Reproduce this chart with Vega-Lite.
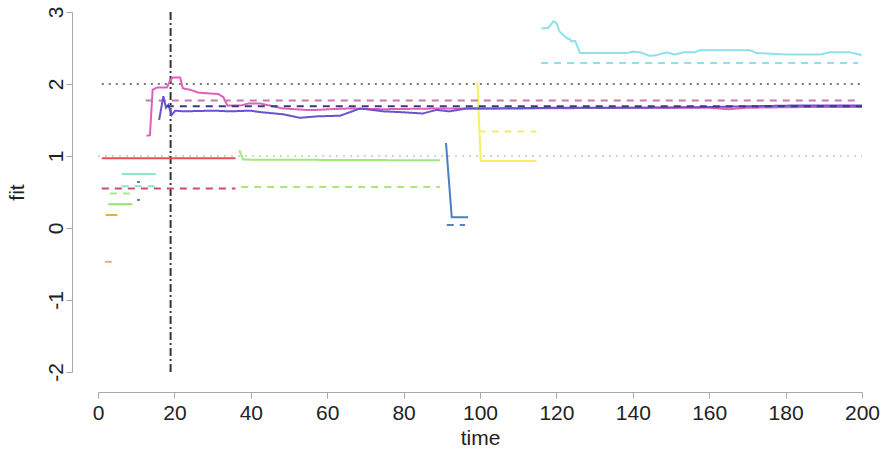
{
  "$schema": "https://vega.github.io/schema/vega-lite/v6.json",
  "width": 764,
  "height": 360,
  "autosize": {"type": "none"},
  "padding": {"left": 98, "top": 12, "right": 23, "bottom": 78},
  "background": "white",
  "config": {
    "view": {"stroke": null},
    "font": "Liberation Sans",
    "axis": {
      "grid": false,
      "domainColor": "#a8a8a8",
      "tickColor": "#a8a8a8",
      "tickSize": 6,
      "labelFontSize": 21,
      "titleFontSize": 21,
      "labelColor": "#222",
      "titleColor": "#222",
      "titleFontWeight": "normal",
      "labelFlush": false,
      "labelOverlap": false
    }
  },
  "data": {
    "values": [
      {"series": "ref2", "kind": "ref", "t": 1, "fit": 2.0},
      {"series": "ref2", "kind": "ref", "t": 200, "fit": 2.0},
      {"series": "ref1", "kind": "ref", "t": 0, "fit": 1.0},
      {"series": "ref1", "kind": "ref", "t": 200, "fit": 1.0},
      {"series": "vline", "kind": "vline", "t": 19, "fit": -2},
      {"series": "vline", "kind": "vline", "t": 19, "fit": 3},

      {"series": "red fit", "kind": "fit", "t": 1, "fit": 0.97},
      {"series": "red fit", "kind": "fit", "t": 36, "fit": 0.97},
      {"series": "red true", "kind": "true", "t": 1, "fit": 0.55},
      {"series": "red true", "kind": "true", "t": 36, "fit": 0.55},

      {"series": "green fit", "kind": "fit", "t": 37, "fit": 1.08},
      {"series": "green fit", "kind": "fit", "t": 38, "fit": 0.95},
      {"series": "green fit", "kind": "fit", "t": 89.5, "fit": 0.94},
      {"series": "green true", "kind": "true", "t": 37.5, "fit": 0.57},
      {"series": "green true", "kind": "true", "t": 89.5, "fit": 0.57},

      {"series": "blue fit", "kind": "fit", "t": 91.1, "fit": 1.18},
      {"series": "blue fit", "kind": "fit", "t": 92.6, "fit": 0.15},
      {"series": "blue fit", "kind": "fit", "t": 96.9, "fit": 0.15},
      {"series": "blue true", "kind": "true", "t": 91.3, "fit": 0.04},
      {"series": "blue true", "kind": "true", "t": 96.1, "fit": 0.04},

      {"series": "yellow fit", "kind": "fit", "t": 99.3, "fit": 2.03},
      {"series": "yellow fit", "kind": "fit", "t": 100.2, "fit": 0.93},
      {"series": "yellow fit", "kind": "fit", "t": 114.8, "fit": 0.93},
      {"series": "yellow true", "kind": "true", "t": 99.6, "fit": 1.34},
      {"series": "yellow true", "kind": "true", "t": 114.8, "fit": 1.34},

      {"series": "cyan fit", "kind": "fit", "t": 116.1, "fit": 2.77},
      {"series": "cyan fit", "kind": "fit", "t": 117.9, "fit": 2.78},
      {"series": "cyan fit", "kind": "fit", "t": 119.2, "fit": 2.87},
      {"series": "cyan fit", "kind": "fit", "t": 120.1, "fit": 2.84},
      {"series": "cyan fit", "kind": "fit", "t": 120.8, "fit": 2.73},
      {"series": "cyan fit", "kind": "fit", "t": 121.8, "fit": 2.68},
      {"series": "cyan fit", "kind": "fit", "t": 122.9, "fit": 2.63},
      {"series": "cyan fit", "kind": "fit", "t": 123.4, "fit": 2.63},
      {"series": "cyan fit", "kind": "fit", "t": 124.0, "fit": 2.59},
      {"series": "cyan fit", "kind": "fit", "t": 124.9, "fit": 2.60},
      {"series": "cyan fit", "kind": "fit", "t": 126.2, "fit": 2.43},
      {"series": "cyan fit", "kind": "fit", "t": 138.4, "fit": 2.43},
      {"series": "cyan fit", "kind": "fit", "t": 140.1, "fit": 2.45},
      {"series": "cyan fit", "kind": "fit", "t": 141.9, "fit": 2.44},
      {"series": "cyan fit", "kind": "fit", "t": 144.5, "fit": 2.39},
      {"series": "cyan fit", "kind": "fit", "t": 146.2, "fit": 2.40},
      {"series": "cyan fit", "kind": "fit", "t": 148.9, "fit": 2.44},
      {"series": "cyan fit", "kind": "fit", "t": 151.0, "fit": 2.41},
      {"series": "cyan fit", "kind": "fit", "t": 153.2, "fit": 2.44},
      {"series": "cyan fit", "kind": "fit", "t": 156.3, "fit": 2.44},
      {"series": "cyan fit", "kind": "fit", "t": 157.6, "fit": 2.47},
      {"series": "cyan fit", "kind": "fit", "t": 170.7, "fit": 2.47},
      {"series": "cyan fit", "kind": "fit", "t": 172.4, "fit": 2.43},
      {"series": "cyan fit", "kind": "fit", "t": 180.3, "fit": 2.41},
      {"series": "cyan fit", "kind": "fit", "t": 189.0, "fit": 2.41},
      {"series": "cyan fit", "kind": "fit", "t": 191.6, "fit": 2.44},
      {"series": "cyan fit", "kind": "fit", "t": 196.9, "fit": 2.44},
      {"series": "cyan fit", "kind": "fit", "t": 199.9, "fit": 2.40},
      {"series": "cyan true", "kind": "true", "t": 116, "fit": 2.29},
      {"series": "cyan true", "kind": "true", "t": 199, "fit": 2.29},

      {"series": "pink fit", "kind": "fit", "t": 12.7, "fit": 1.28},
      {"series": "pink fit", "kind": "fit", "t": 13.6, "fit": 1.29},
      {"series": "pink fit", "kind": "fit", "t": 14.3, "fit": 1.92},
      {"series": "pink fit", "kind": "fit", "t": 15.4, "fit": 1.95},
      {"series": "pink fit", "kind": "fit", "t": 18.0, "fit": 1.95},
      {"series": "pink fit", "kind": "fit", "t": 19.0, "fit": 2.06},
      {"series": "pink fit", "kind": "fit", "t": 19.7, "fit": 2.09},
      {"series": "pink fit", "kind": "fit", "t": 21.5, "fit": 2.09},
      {"series": "pink fit", "kind": "fit", "t": 22.2, "fit": 1.94},
      {"series": "pink fit", "kind": "fit", "t": 24.1, "fit": 1.92},
      {"series": "pink fit", "kind": "fit", "t": 26.3, "fit": 1.88},
      {"series": "pink fit", "kind": "fit", "t": 31.5, "fit": 1.86},
      {"series": "pink fit", "kind": "fit", "t": 32.8, "fit": 1.82},
      {"series": "pink fit", "kind": "fit", "t": 33.9, "fit": 1.70},
      {"series": "pink fit", "kind": "fit", "t": 37.2, "fit": 1.70},
      {"series": "pink fit", "kind": "fit", "t": 39.4, "fit": 1.73},
      {"series": "pink fit", "kind": "fit", "t": 42.4, "fit": 1.73},
      {"series": "pink fit", "kind": "fit", "t": 45.0, "fit": 1.70},
      {"series": "pink fit", "kind": "fit", "t": 48.4, "fit": 1.66},
      {"series": "pink fit", "kind": "fit", "t": 54.6, "fit": 1.64},
      {"series": "pink fit", "kind": "fit", "t": 57.0, "fit": 1.64},
      {"series": "pink fit", "kind": "fit", "t": 60.7, "fit": 1.65},
      {"series": "pink fit", "kind": "fit", "t": 66.0, "fit": 1.66},
      {"series": "pink fit", "kind": "fit", "t": 74.6, "fit": 1.65},
      {"series": "pink fit", "kind": "fit", "t": 90.0, "fit": 1.66},
      {"series": "pink fit", "kind": "fit", "t": 110.0, "fit": 1.66},
      {"series": "pink fit", "kind": "fit", "t": 140.0, "fit": 1.67},
      {"series": "pink fit", "kind": "fit", "t": 160.0, "fit": 1.67},
      {"series": "pink fit", "kind": "fit", "t": 165.0, "fit": 1.65},
      {"series": "pink fit", "kind": "fit", "t": 170.0, "fit": 1.67},
      {"series": "pink fit", "kind": "fit", "t": 185.0, "fit": 1.68},
      {"series": "pink fit", "kind": "fit", "t": 200.0, "fit": 1.68},
      {"series": "pink true", "kind": "true", "t": 12.5, "fit": 1.77},
      {"series": "pink true", "kind": "true", "t": 199, "fit": 1.77},

      {"series": "purple fit", "kind": "fit", "t": 16.0, "fit": 1.50},
      {"series": "purple fit", "kind": "fit", "t": 17.1, "fit": 1.83},
      {"series": "purple fit", "kind": "fit", "t": 17.8, "fit": 1.67},
      {"series": "purple fit", "kind": "fit", "t": 18.4, "fit": 1.71},
      {"series": "purple fit", "kind": "fit", "t": 19.3, "fit": 1.57},
      {"series": "purple fit", "kind": "fit", "t": 20.2, "fit": 1.63},
      {"series": "purple fit", "kind": "fit", "t": 22.3, "fit": 1.62},
      {"series": "purple fit", "kind": "fit", "t": 30.2, "fit": 1.63},
      {"series": "purple fit", "kind": "fit", "t": 34.6, "fit": 1.62},
      {"series": "purple fit", "kind": "fit", "t": 39.8, "fit": 1.63},
      {"series": "purple fit", "kind": "fit", "t": 42.4, "fit": 1.61},
      {"series": "purple fit", "kind": "fit", "t": 48.4, "fit": 1.58},
      {"series": "purple fit", "kind": "fit", "t": 52.9, "fit": 1.53},
      {"series": "purple fit", "kind": "fit", "t": 57.2, "fit": 1.55},
      {"series": "purple fit", "kind": "fit", "t": 63.4, "fit": 1.56},
      {"series": "purple fit", "kind": "fit", "t": 66.0, "fit": 1.61},
      {"series": "purple fit", "kind": "fit", "t": 68.6, "fit": 1.66},
      {"series": "purple fit", "kind": "fit", "t": 74.7, "fit": 1.62},
      {"series": "purple fit", "kind": "fit", "t": 79.0, "fit": 1.61},
      {"series": "purple fit", "kind": "fit", "t": 85.0, "fit": 1.59},
      {"series": "purple fit", "kind": "fit", "t": 88.6, "fit": 1.64},
      {"series": "purple fit", "kind": "fit", "t": 92.0, "fit": 1.62},
      {"series": "purple fit", "kind": "fit", "t": 96.5, "fit": 1.66},
      {"series": "purple fit", "kind": "fit", "t": 102.6, "fit": 1.66},
      {"series": "purple fit", "kind": "fit", "t": 120.0, "fit": 1.67},
      {"series": "purple fit", "kind": "fit", "t": 142.0, "fit": 1.67},
      {"series": "purple fit", "kind": "fit", "t": 160.0, "fit": 1.68},
      {"series": "purple fit", "kind": "fit", "t": 181.0, "fit": 1.70},
      {"series": "purple fit", "kind": "fit", "t": 200.0, "fit": 1.70},
      {"series": "purple true", "kind": "true", "t": 18, "fit": 1.69},
      {"series": "purple true", "kind": "true", "t": 200, "fit": 1.69},

      {"series": "teal fit", "kind": "fit", "t": 6.2, "fit": 0.75},
      {"series": "teal fit", "kind": "fit", "t": 15.1, "fit": 0.75},
      {"series": "teal true", "kind": "true", "t": 6.2, "fit": 0.58},
      {"series": "teal true", "kind": "true", "t": 15.0, "fit": 0.58},

      {"series": "lgreen fit", "kind": "fit", "t": 2.7, "fit": 0.33},
      {"series": "lgreen fit", "kind": "fit", "t": 9.0, "fit": 0.33},
      {"series": "lgreen true", "kind": "true", "t": 3.1, "fit": 0.48},
      {"series": "lgreen true", "kind": "true", "t": 8.4, "fit": 0.48},

      {"series": "orange fit", "kind": "fit", "t": 2.0, "fit": 0.18},
      {"series": "orange fit", "kind": "fit", "t": 5.1, "fit": 0.18},
      {"series": "orange true", "kind": "true", "t": 1.8, "fit": -0.47},
      {"series": "orange true", "kind": "true", "t": 3.6, "fit": -0.47},

      {"series": "sblue fit", "kind": "fit", "t": 10.2, "fit": 0.64},
      {"series": "sblue fit", "kind": "fit", "t": 11.0, "fit": 0.64},
      {"series": "sblue true", "kind": "true", "t": 10.2, "fit": 0.39},
      {"series": "sblue true", "kind": "true", "t": 11.0, "fit": 0.39}
    ]
  },
  "mark": {"type": "line", "strokeWidth": 2, "strokeCap": "butt"},
  "encoding": {
    "x": {
      "field": "t", "type": "quantitative",
      "scale": {"domain": [0, 200], "nice": false, "zero": false},
      "axis": {"title": "time", "offset": 20, "values": [0, 20, 40, 60, 80, 100, 120, 140, 160, 180, 200], "labelPadding": 4, "titlePadding": 4}
    },
    "y": {
      "field": "fit", "type": "quantitative",
      "scale": {"domain": [-2, 3], "nice": false, "zero": false},
      "axis": {"title": "fit", "offset": 26, "values": [-2, -1, 0, 1, 2, 3], "labelExpr": "'' + datum.value", "labelAngle": 270, "labelAlign": "center", "labelBaseline": "alphabetic", "labelPadding": 4, "titlePadding": 18}
    },
    "color": {
      "field": "series", "type": "nominal", "legend": null,
      "scale": {
        "domain": ["ref2", "ref1", "vline", "red fit", "red true", "green fit", "green true", "blue fit", "blue true", "yellow fit", "yellow true", "cyan fit", "cyan true", "pink fit", "pink true", "purple fit", "purple true", "teal fit", "teal true", "lgreen fit", "lgreen true", "orange fit", "orange true", "sblue fit", "sblue true"],
        "range": ["#7a7a7a", "#d4d4d4", "#333333", "#e8505a", "#d04a6a", "#a0e878", "#a8e878", "#4a7fc0", "#5a80c8", "#f5f065", "#f2ee70", "#90e0ea", "#90e0ea", "#e060b8", "#c878b0", "#6a52d0", "#3a3a80", "#8ae8c8", "#8ae8c8", "#98e070", "#a8e890", "#f0a848", "#d8b880", "#5a80c8", "#5a80c8"]
      }
    },
    "strokeDash": {
      "field": "kind", "type": "nominal", "legend": null,
      "scale": {"domain": ["fit", "true", "ref", "vline"], "range": [[1, 0], [7, 6], [2, 5], [8, 3, 2, 3]]}
    }
  }
}
